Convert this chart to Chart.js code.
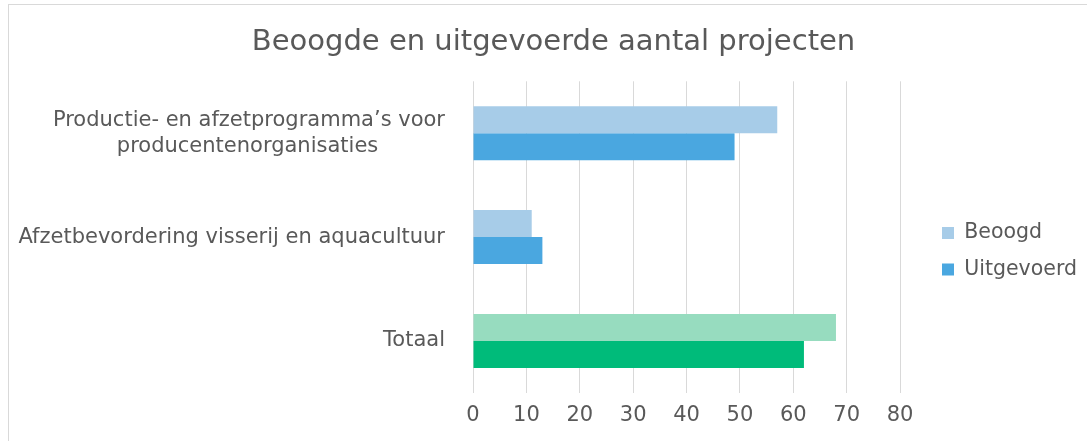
<!DOCTYPE html>
<html>
<head>
<meta charset="utf-8">
<script src="https://cdn.jsdelivr.net/npm/chart.js@4"></script>
<style>
  html, body { margin: 0; padding: 0; background: #fff; width: 1087px; height: 441px; overflow: hidden; font-family: 'DejaVu Sans'; }
  #frame { position: absolute; left: 8px; top: 4px; width: 1085px; height: 445px; border-left: 1px solid #d9d9d9; border-top: 1px solid #d9d9d9; }
  #wrap { position: absolute; left: 9px; top: 5px; width: 1078px; height: 436px; }
  #probe { position: absolute; left: -9999px; font-family: 'DejaVu Sans'; }
</style>
</head>
<body>
<div id="frame"></div>
<span id="probe">Beoogd</span>
<div id="wrap"><canvas id="c"></canvas></div>
<script>
const categories = [
  ["Productie- en afzetprogramma\u2019s voor", "producentenorganisaties\u00a0\u00a0\u00a0\u00a0\u00a0\u00a0\u00a0\u00a0\u00a0\u00a0"],
  "Afzetbevordering visserij en aquacultuur",
  "Totaal"
];
const beoogd = [57, 11, 68];
const uitgevoerd = [49, 13, 62];
const xTicks = [0, 10, 20, 30, 40, 50, 60, 70, 80];
const seriesNames = ["Beoogd", "Uitgevoerd"];
const beoogdColors = ["#a7cce8", "#a7cce8", "#97dcbf"];
const uitgevoerdColors = ["#4aa7e0", "#4aa7e0", "#00bb7a"];

const FONT = "'DejaVu Sans'";
const GREY = "#595959";

// places title and legend like the reference (canvas coordinates)
const placeBoxes = {
  id: 'placeBoxes',
  beforeDraw(chart) {
    const tb = chart.titleBlock;
    if (tb) {
      const w = tb.right - tb.left;
      tb.left = 544.5 - w / 2;
      tb.right = tb.left + w;
    }
    const lg = chart.legend;
    if (lg) {
      const w = lg.right - lg.left, h = lg.bottom - lg.top;
      const pad = lg.options.labels.padding;
      lg.left = 933 - pad;
      lg.right = lg.left + w;
      lg.top = 228 - pad - 10.25;
      lg.bottom = lg.top + h;
    }
  }
};

function draw() {
  new Chart(document.getElementById('c'), {
    type: 'bar',
    data: {
      labels: categories,
      datasets: [
        { label: seriesNames[0], data: beoogd, backgroundColor: beoogdColors, categoryPercentage: 0.52, barPercentage: 1.0, borderWidth: 0 },
        { label: seriesNames[1], data: uitgevoerd, backgroundColor: uitgevoerdColors, categoryPercentage: 0.52, barPercentage: 1.0, borderWidth: 0 }
      ]
    },
    plugins: [placeBoxes],
    options: {
      indexAxis: 'y',
      responsive: true,
      maintainAspectRatio: false,
      animation: false,
      layout: { padding: { left: 8, right: 26, top: 0, bottom: 3 } },
      scales: {
        x: {
          min: 0, max: 80,
          afterBuildTicks: (axis) => { axis.ticks = xTicks.map(v => ({ value: v })); },
          grid: { color: '#d9d9d9', lineWidth: 1, drawTicks: false, tickLength: 0 },
          border: { display: false },
          ticks: { color: GREY, font: { family: FONT, size: 21, lineHeight: 1.2 }, padding: 10 }
        },
        y: {
          afterFit: (scale) => { scale.width = 456; scale.paddingTop = 0; scale.paddingBottom = 0; },
          grid: { display: false, drawTicks: true, tickLength: 28 },
          border: { display: false },
          ticks: { color: GREY, font: { family: FONT, size: 21, lineHeight: 1.24 }, padding: 0 }
        }
      },
      plugins: {
        title: {
          display: true,
          text: 'Beoogde en uitgevoerde aantal projecten',
          color: GREY,
          font: { family: FONT, size: 29, weight: 'normal', lineHeight: 1.2 },
          padding: { top: 20, bottom: 21.5 }
        },
        legend: {
          position: 'right',
          align: 'start',
          labels: {
            color: GREY,
            font: { family: FONT, size: 20.5 },
            boxWidth: 12, boxHeight: 12,
            padding: 16,
            generateLabels: (chart) => seriesNames.map((n, i) => ({
              text: n,
              fillStyle: i === 0 ? beoogdColors[0] : uitgevoerdColors[0],
              strokeStyle: 'rgba(0,0,0,0)',
              lineWidth: 0,
              fontColor: GREY,
              datasetIndex: i
            }))
          }
        },
        tooltip: { enabled: false }
      }
    }
  });
}
const loads = [20.5, 21, 29].map(s => document.fonts.load(s + "px 'DejaVu Sans'"));
Promise.all(loads).then(draw, draw);
</script>
</body>
</html>
